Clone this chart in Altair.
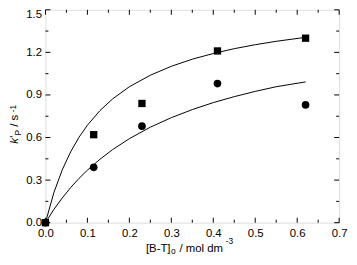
import altair as alt
import pandas as pd

# measured data points
sq_x = [0.0, 0.115, 0.23, 0.41, 0.62]
sq_y = [0.0, 0.62, 0.84, 1.21, 1.30]
ci_x = [0.0, 0.115, 0.23, 0.41, 0.62]
ci_y = [0.0, 0.39, 0.68, 0.98, 0.83]

# curves
cu_x = [0.0, 0.02, 0.04, 0.06, 0.08, 0.10, 0.13, 0.16, 0.20, 0.25, 0.30, 0.35, 0.40, 0.45, 0.50, 0.55, 0.62]
up_y = [0.0, 0.211, 0.372, 0.499, 0.602, 0.687, 0.790, 0.872, 0.958, 1.039, 1.102, 1.152, 1.192, 1.226, 1.254, 1.278, 1.306]
lo_y = [0.0, 0.093, 0.174, 0.247, 0.312, 0.370, 0.447, 0.515, 0.592, 0.673, 0.740, 0.797, 0.846, 0.888, 0.925, 0.958, 0.992]

x_major = [0.0, 0.1, 0.2, 0.3, 0.4, 0.5, 0.6, 0.7]
x_minor = [0.05, 0.15, 0.25, 0.35, 0.45, 0.55, 0.65]
y_major = [0.0, 0.3, 0.6, 0.9, 1.2, 1.5]
y_minor = [0.15, 0.45, 0.75, 1.05, 1.35]

W, H = 298, 216
FONT = "Liberation Sans"

xs = alt.Scale(domain=[0, 0.7], nice=False, zero=False)
ys = alt.Scale(domain=[0, 1.5], nice=False, zero=False)

pts = pd.DataFrame({"x": sq_x + ci_x, "y": sq_y + ci_y,
                    "s": ["sq"] * len(sq_x) + ["ci"] * len(ci_x)})
curves = pd.DataFrame({"x": cu_x + cu_x, "y": up_y + lo_y,
                       "c": ["up"] * len(cu_x) + ["lo"] * len(cu_x)})

AX = alt.Axis(values=x_major, format=".1f", ticks=False, domain=False, grid=False,
              labelFontSize=11.5, labelFont=FONT, labelColor="black", labelPadding=5,
              labelFlush=False, labelOverlap=False, title=None)
AY = alt.Axis(values=y_major, format=".1f", ticks=False, domain=False, grid=False,
              labelFontSize=11.5, labelFont=FONT, labelColor="black", labelPadding=4,
              labelFlush=False, labelOverlap=False, title=None,
              labelOffset={"condition": {"test": "datum.value >= 1.49", "value": 5}, "value": 0})


def X(f):
    return alt.X(f, scale=xs, axis=AX)


def Y(f):
    return alt.Y(f, scale=ys, axis=AY)


lines = alt.Chart(curves).mark_line(color="black", strokeWidth=1).encode(
    x=X("x:Q"), y=Y("y:Q"), detail="c:N",
)

squares = alt.Chart(pts).transform_filter(alt.datum.s == "sq").mark_point(
    shape="square", filled=True, color="black", size=55, opacity=1
).encode(x=X("x:Q"), y=Y("y:Q"))

circles = alt.Chart(pts).transform_filter(alt.datum.s == "ci").mark_point(
    shape="circle", filled=True, color="black", size=60, opacity=1
).encode(x=X("x:Q"), y=Y("y:Q"))


def xticks(vals, length):
    df = pd.DataFrame({"v": vals})
    b = alt.Chart(df).mark_rule(color="black", strokeWidth=1)
    bot = b.encode(x=X("v:Q"), y=alt.value(H), y2=alt.value(H - length))
    top = b.encode(x=X("v:Q"), y=alt.value(0), y2=alt.value(length))
    return [bot, top]


def yticks(vals, length):
    df = pd.DataFrame({"v": vals})
    b = alt.Chart(df).mark_rule(color="black", strokeWidth=1)
    left = b.encode(y=Y("v:Q"), x=alt.value(0), x2=alt.value(length))
    right = b.encode(y=Y("v:Q"), x=alt.value(W), x2=alt.value(W - length))
    return [left, right]


def txt(t, x, y, size=11.5, angle=0, style="normal"):
    return alt.Chart(alt.Data(values=[{"a": 1}])).mark_text(
        text=t, font=FONT, fontSize=size, angle=angle, fontStyle=style,
        align="left", baseline="alphabetic", color="black"
    ).encode(x=alt.value(x), y=alt.value(y))


# x title: [B-T]o / mol dm -3
xb = 245.5
x0 = 102
title_x = [
    txt("[B-T]", x0, xb),
    txt("o", x0 + 25.5, xb + 2, size=8.5),
    txt("/ mol dm", x0 + 34, xb),
    txt("-3", x0 + 81, xb - 7.5, size=8.5),
]

# y title (rotated): k'P / s -1
yb = -28
y0 = 136
title_y = [
    txt("k", yb, y0, size=11.5, angle=270, style="italic"),
    txt("'", yb, y0 - 6.2, size=11.5, angle=270),
    txt("P", yb + 3, y0 - 8.5, size=8.5, angle=270),
    txt("/ s", yb, y0 - 17.4, size=11.5, angle=270),
    txt("-1", yb - 2, y0 - 32, size=8.5, angle=270),
]

layers = [lines] + xticks(x_major, 5) + xticks(x_minor, 3) + yticks(y_major, 5) + yticks(y_minor, 3) \
    + [squares, circles] + title_x + title_y

chart = alt.layer(*layers).properties(
    width=W, height=H,
    autosize=alt.AutoSizeParams(type="none"),
    padding={"left": 38, "top": 0, "right": 10, "bottom": 33},
).configure_view(stroke="black", strokeWidth=1).configure(background="white")

chart.save("out.html", embed_options={"renderer": "svg", "actions": False})
